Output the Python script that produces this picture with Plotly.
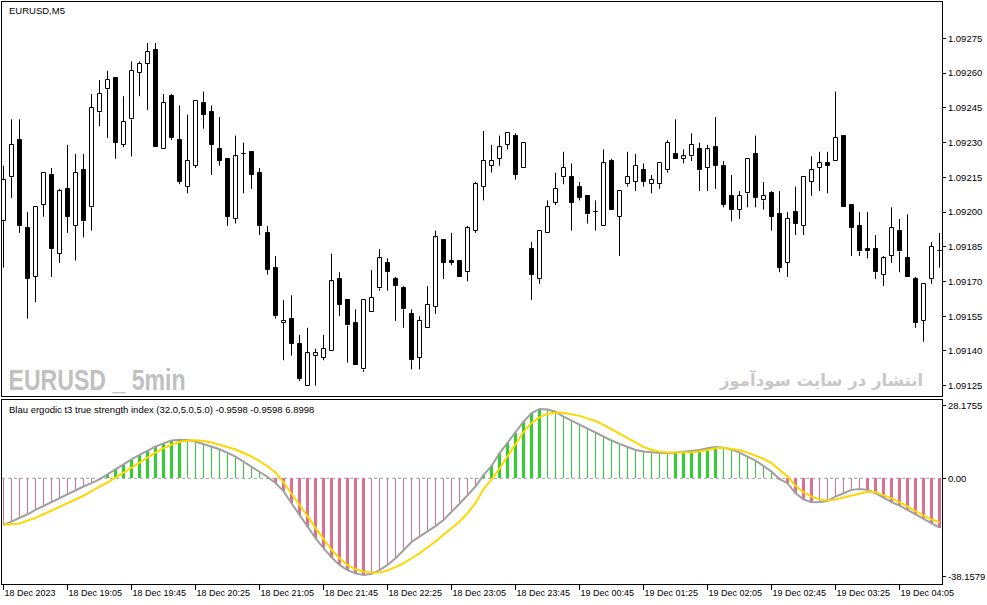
import plotly.graph_objects as go

# ---------------- data ----------------
bar_index = list(range(118))

open_ = [1.09196,1.09215,1.09231,1.09193,1.09172,1.09203,1.09216,1.09182,1.09210,1.09194,
         1.09218,1.09202,1.09243,1.09253,1.09258,1.09229,1.09240,1.09260,1.09264,1.09270,
         1.09227,1.09250,1.09231,1.09211,1.09220,1.09247,1.09243,1.09227,1.09223,1.09197,
         1.09225,1.09226,1.09217,1.09191,1.09176,1.09152,1.09154,1.09143,1.09125,1.09138,
         1.09137,1.09140,1.09171,1.09162,1.09152,1.09132,1.09157,1.09167,1.09178,1.09171,
         1.09167,1.09156,1.09137,1.09150,1.09159,1.09188,1.09179,1.09179,1.09174,1.09192,
         1.09211,1.09220,1.09223,1.09229,1.09233,1.09219,1.09184,1.09171,1.09191,1.09204,
         1.09215,1.09215,1.09211,1.09207,1.09200,1.09194,1.09222,1.09198,1.09212,1.09213,
         1.09218,1.09212,1.09212,1.09218,1.09225,1.09223,1.09224,1.09227,1.09219,1.09228,
         1.09220,1.09207,1.09201,1.09208,1.09225,1.09205,1.09208,1.09199,1.09178,1.09200,
         1.09194,1.09213,1.09219,1.09221,1.09222,1.09233,1.09203,1.09194,1.09184,1.09184,
         1.09173,1.09181,1.09192,1.09180,1.09171,1.09153,1.09171,1.09183]
high_ = [1.09220,1.09240,1.09240,1.09200,1.09202,1.09217,1.09219,1.09210,1.09229,1.09225,
         1.09225,1.09251,1.09257,1.09261,1.09258,1.09250,1.09265,1.09265,1.09273,1.09273,
         1.09251,1.09251,1.09246,1.09242,1.09248,1.09252,1.09246,1.09241,1.09223,1.09233,
         1.09230,1.09226,1.09219,1.09194,1.09181,1.09162,1.09164,1.09147,1.09150,1.09141,
         1.09147,1.09182,1.09174,1.09162,1.09158,1.09162,1.09175,1.09184,1.09180,1.09172,
         1.09168,1.09158,1.09155,1.09168,1.09192,1.09188,1.09191,1.09179,1.09194,1.09213,
         1.09235,1.09229,1.09233,1.09234,1.09234,1.09230,1.09187,1.09192,1.09205,1.09217,
         1.09226,1.09221,1.09213,1.09207,1.09205,1.09227,1.09223,1.09209,1.09226,1.09225,
         1.09221,1.09216,1.09221,1.09231,1.09240,1.09227,1.09234,1.09230,1.09229,1.09241,
         1.09222,1.09216,1.09209,1.09223,1.09233,1.09213,1.09209,1.09209,1.09200,1.09211,
         1.09215,1.09224,1.09226,1.09226,1.09252,1.09233,1.09203,1.09200,1.09200,1.09190,
         1.09181,1.09202,1.09197,1.09199,1.09172,1.09169,1.09187,1.09191]
low_ = [1.09176,1.09206,1.09191,1.09154,1.09161,1.09198,1.09172,1.09178,1.09191,1.09179,
        1.09189,1.09192,1.09237,1.09232,1.09223,1.09228,1.09224,1.09250,1.09244,1.09228,
        1.09227,1.09231,1.09212,1.09208,1.09219,1.09236,1.09216,1.09220,1.09194,1.09195,
        1.09208,1.09210,1.09190,1.09173,1.09154,1.09136,1.09138,1.09127,1.09125,1.09125,
        1.09136,1.09140,1.09155,1.09135,1.09134,1.09131,1.09157,1.09166,1.09166,1.09153,
        1.09150,1.09132,1.09132,1.09150,1.09156,1.09171,1.09177,1.09172,1.09170,1.09191,
        1.09205,1.09217,1.09220,1.09227,1.09214,1.09219,1.09162,1.09169,1.09191,1.09203,
        1.09212,1.09192,1.09205,1.09195,1.09192,1.09194,1.09201,1.09181,1.09211,1.09209,
        1.09211,1.09208,1.09210,1.09217,1.09223,1.09221,1.09222,1.09209,1.09209,1.09210,
        1.09202,1.09196,1.09197,1.09202,1.09202,1.09201,1.09192,1.09174,1.09172,1.09190,
        1.09190,1.09207,1.09209,1.09208,1.09222,1.09202,1.09181,1.09181,1.09180,1.09171,
        1.09168,1.09178,1.09174,1.09172,1.09150,1.09144,1.09169,1.09176]
close_ = [1.09214,1.09229,1.09194,1.09171,1.09202,1.09217,1.09184,1.09209,1.09198,1.09217,
          1.09196,1.09245,1.09251,1.09257,1.09230,1.09239,1.09261,1.09264,1.09269,1.09228,
          1.09247,1.09232,1.09213,1.09222,1.09248,1.09242,1.09229,1.09222,1.09198,1.09224,
          1.09225,1.09216,1.09194,1.09175,1.09155,1.09153,1.09143,1.09128,1.09139,1.09139,
          1.09141,1.09170,1.09160,1.09151,1.09134,1.09162,1.09163,1.09180,1.09174,1.09168,
          1.09158,1.09136,1.09153,1.09160,1.09189,1.09178,1.09178,1.09172,1.09193,1.09212,
          1.09222,1.09222,1.09228,1.09234,1.09216,1.09230,1.09173,1.09192,1.09202,1.09210,
          1.09219,1.09204,1.09206,1.09199,1.09200,1.09221,1.09201,1.09209,1.09215,1.09220,
          1.09213,1.09214,1.09221,1.09230,1.09223,1.09224,1.09229,1.09218,1.09227,1.09220,
          1.09203,1.09201,1.09207,1.09223,1.09206,1.09207,1.09198,1.09176,1.09197,1.09195,
          1.09215,1.09218,1.09221,1.09220,1.09232,1.09202,1.09193,1.09183,1.09183,1.09174,
          1.09180,1.09193,1.09183,1.09172,1.09152,1.09169,1.09185,1.09183]

# Blau ergodic TSI main line (histogram) and signal line
tsi_main = [-18.2,-16.9,-15.6,-14.0,-12.3,-10.8,-9.1,-7.5,-6.1,-4.5,
            -3.2,-1.9,-0.4,1.5,3.5,5.4,7.4,9.1,10.8,12.3,
            13.6,14.7,15.0,14.9,14.3,13.4,12.3,11.3,9.9,8.4,
            6.5,4.5,2.6,0.5,-1.8,-5.0,-9.7,-14.3,-18.8,-23.3,
            -27.2,-30.7,-33.7,-35.7,-37.0,-37.6,-37.2,-35.7,-33.7,-31.1,
            -28.0,-24.8,-22.7,-20.8,-18.6,-16.2,-13.2,-9.9,-6.6,-3.2,
            1.2,4.8,9.7,13.9,17.8,22.0,25.3,27.0,26.8,25.9,
            24.0,22.4,21.1,19.5,17.8,16.0,14.7,13.4,12.1,11.0,
            10.4,10.0,9.8,9.7,10.0,10.4,10.6,11.0,11.7,12.2,
            11.9,11.2,10.0,8.3,6.9,4.8,2.6,-0.3,-1.9,-5.8,
            -8.2,-9.3,-9.2,-8.8,-7.1,-5.8,-4.5,-4.2,-4.5,-5.8,
            -7.5,-9.3,-10.6,-12.3,-14.0,-15.6,-17.5,-19.2]
tsi_signal = [-17.9,-17.9,-17.6,-16.6,-15.4,-14.0,-12.6,-11.3,-9.8,-8.3,
              -6.8,-5.0,-3.4,-1.6,0.3,2.3,4.3,6.3,8.2,10.0,
              11.7,13.1,14.1,14.7,14.8,14.5,13.9,13.1,12.2,11.2,
              10.0,8.5,6.7,4.7,2.3,-1.5,-6.0,-10.2,-14.7,-19.3,
              -23.8,-27.8,-31.1,-33.7,-35.4,-36.3,-36.7,-36.7,-35.9,-34.6,
              -33.1,-31.1,-29.2,-26.8,-24.6,-22.0,-19.5,-16.9,-13.6,-9.7,
              -4.2,-0.5,3.8,8.5,13.5,18.0,21.5,23.8,25.0,25.6,
              25.5,25.0,24.3,23.3,22.3,20.8,19.1,17.5,15.6,13.8,
              12.2,11.1,10.3,10.0,10.0,10.0,10.1,10.4,11.1,11.7,
              11.9,11.5,10.9,10.0,8.9,7.6,5.9,3.4,0.7,-2.9,
              -5.4,-7.1,-8.2,-8.6,-8.3,-7.5,-6.7,-5.8,-5.2,-5.4,
              -6.5,-7.8,-9.3,-11.0,-13.0,-14.5,-16.0,-17.1]

price_ticks = [1.09125, 1.09140, 1.09155, 1.09170, 1.09185, 1.09200,
               1.09215, 1.09230, 1.09245, 1.09260, 1.09275]
ind_ticks = [28.1755, 0.0, -38.1579]
ind_tick_text = ["28.1755", "0.00", "-38.1579"]
time_tick_bars = [0, 8, 16, 24, 32, 40, 48, 56, 64, 72, 80, 88, 96, 104, 112]
time_tick_text = ["18 Dec 2023", "18 Dec 19:05", "18 Dec 19:45", "18 Dec 20:25",
                  "18 Dec 21:05", "18 Dec 21:45", "18 Dec 22:25", "18 Dec 23:05",
                  "18 Dec 23:45", "19 Dec 00:45", "19 Dec 01:25", "19 Dec 02:05",
                  "19 Dec 02:45", "19 Dec 03:25", "19 Dec 04:05"]

# ---------------- geometry / style ----------------
W, H = 987, 605
FONT = "Liberation Sans, Arial, sans-serif"
GREEN = "#32CD32"
PINK = "#DB7093"

def px(v):
    return v / W

def py(v):
    return 1 - v / H

X_RANGE = [-0.1875, 117.3125]

# ---------------- traces ----------------
fig = go.Figure()

# wicks (split so they don't cross white bodies)
wx, wy = [], []
for i, o, h, l, c in zip(bar_index, open_, high_, low_, close_):
    top, bot = max(o, c), min(o, c)
    wx += [i, i, None, i, i, None]
    wy += [h, top, None, bot, l, None]
fig.add_trace(go.Scatter(x=wx, y=wy, mode="lines", line=dict(color="black", width=1),
                         hoverinfo="skip", xaxis="x", yaxis="y"))

body_base = [min(o, c) for o, c in zip(open_, close_)]
body_len = [max(abs(c - o), 2e-7) for o, c in zip(open_, close_)]
body_col = ["white" if c >= o else "black" for o, c in zip(open_, close_)]
fig.add_trace(go.Bar(x=bar_index, y=body_len, base=body_base, width=0.5,
                     marker=dict(color=body_col, line=dict(color="black", width=1)),
                     xaxis="x", yaxis="y", hoverinfo="skip"))

# histogram of TSI
hist_col, hist_w = [], []
prev = None
for v in tsi_main:
    rising_mag = prev is not None and ((v > 0 and v > prev) or (v < 0 and v < prev))
    hist_col.append(GREEN if v >= 0 else PINK)
    hist_w.append(0.375 if rising_mag else 0.125)
    prev = v
fig.add_trace(go.Bar(x=bar_index, y=tsi_main, width=hist_w,
                     marker=dict(color=hist_col, line=dict(width=0)),
                     xaxis="x2", yaxis="y2", hoverinfo="skip"))

fig.add_trace(go.Scatter(x=bar_index, y=tsi_main, mode="lines",
                         line=dict(color="#A0A0A0", width=2),
                         xaxis="x2", yaxis="y2", hoverinfo="skip"))
fig.add_trace(go.Scatter(x=bar_index, y=tsi_signal, mode="lines",
                         line=dict(color="#FFD700", width=2),
                         xaxis="x2", yaxis="y2", hoverinfo="skip"))

# ---------------- layout ----------------
axis_common = dict(showgrid=False, zeroline=False, showline=True, mirror=True,
                   linecolor="black", linewidth=1, tickcolor="black", automargin=False,
                   tickfont=dict(family=FONT, size=9.5, color="black"))

top_px, sep_px, ind_top_px, bot_px = 2, 396, 400, 584
price_top = 1.09275 + (38.3 - top_px) / 2.316 * 1e-5
price_bot = 1.09275 - (sep_px - 38.3) / 2.316 * 1e-5
zero_px, unit_px = 478.3, 2.57
ind_hi = (zero_px - ind_top_px) / unit_px
ind_lo = -(bot_px - zero_px) / unit_px

fig.update_layout(
    width=W, height=H, autosize=False,
    margin=dict(l=0, r=0, t=0, b=0, autoexpand=False),
    paper_bgcolor="white", plot_bgcolor="white",
    showlegend=False, bargap=0, barmode="overlay",
    xaxis=dict(domain=[px(2), px(942)], range=X_RANGE, anchor="y",
               showticklabels=False, ticks="", **axis_common),
    yaxis=dict(domain=[py(sep_px), py(top_px)], range=[price_bot, price_top],
               anchor="x", side="right", tickvals=price_ticks,
               ticktext=[f"{p:.5f}" for p in price_ticks],
               ticks="outside", ticklen=3, **axis_common),
    xaxis2=dict(domain=[px(2), px(942)], range=X_RANGE, anchor="y2",
                tickvals=time_tick_bars, ticktext=time_tick_text,
                ticks="outside", ticklen=5, ticklabelposition="outside right",
                **{**axis_common, "tickfont": dict(family=FONT, size=9, color="black")}),
    yaxis2=dict(domain=[py(bot_px), py(ind_top_px)], range=[ind_lo, ind_hi],
                anchor="x2", side="right", tickvals=ind_ticks, ticktext=ind_tick_text,
                ticks="outside", ticklen=3, **axis_common),
)

fig.add_shape(type="line", xref="x2 domain", x0=0, x1=1, yref="y2", y0=0, y1=0,
              line=dict(color="#A0A0A0", width=1, dash="3px,3px"), layer="below")

fig.add_annotation(text="EURUSD,M5", xref="paper", yref="paper",
                   x=px(7), y=py(10.5), xanchor="left", yanchor="middle",
                   showarrow=False, font=dict(family=FONT, size=9.5, color="black"))
fig.add_annotation(text="Blau ergodic t3 true strength index (32.0,5.0,5.0) -0.9598 -0.9598 6.8998",
                   xref="paper", yref="paper", x=px(7), y=py(409), xanchor="left",
                   yanchor="middle", showarrow=False,
                   font=dict(family=FONT, size=9.5, color="black"))
fig.add_annotation(text="EURUSD _ 5min", xref="paper", yref="paper",
                   x=px(96.5), y=py(379), xanchor="center", yanchor="middle", showarrow=False,
                   font=dict(family=FONT, size=30, color="#C0C0C0", weight="bold"))
fig.add_annotation(text="انتشار در سایت سودآموز", xref="paper", yref="paper",
                   x=px(925), y=py(380), xanchor="right", yanchor="middle", showarrow=False,
                   font=dict(family="DejaVu Sans, sans-serif", size=16.5, color="#C8C8C8",
                             weight="bold"))

post = """
document.body.style.margin = '0';
document.body.style.padding = '0';
document.body.style.overflow = 'hidden';
var gd = document.getElementById('{plot_id}');
gd.querySelectorAll('text.annotation-text').forEach(function (t) {
  if (t.textContent.indexOf('EURUSD _') === 0) {
    t.setAttribute('textLength', '177');
    t.setAttribute('lengthAdjust', 'spacingAndGlyphs');
  }
});
"""

fig.write_html("out.html", config={"displayModeBar": False, "responsive": False},
               post_script=post)
